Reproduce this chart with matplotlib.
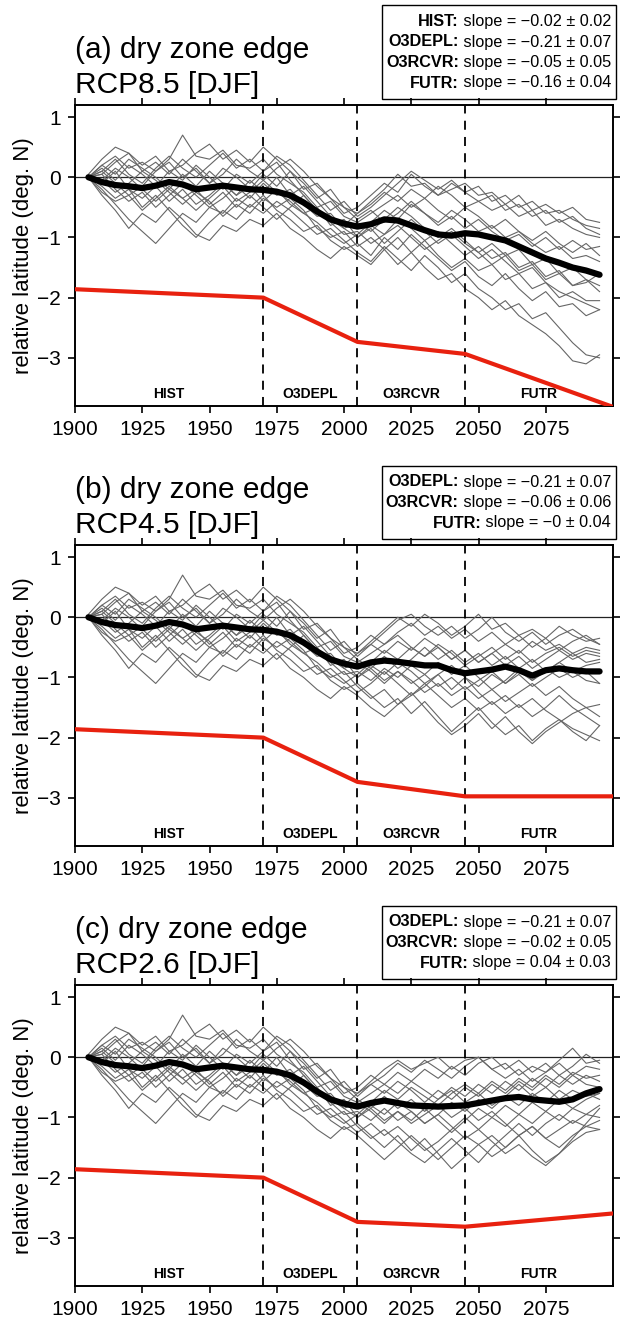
import numpy as np
import matplotlib
matplotlib.use("Agg")
import matplotlib.pyplot as plt
from matplotlib.patches import Rectangle

plt.rcParams['font.family'] = ['Liberation Sans', 'DejaVu Sans']

# ---- data (5-yr sampling) ----
years_hist = list(range(1905, 2006, 5))
years_fut = list(range(2010, 2096, 5))

hist_members = [
    [0.0, 0.2, 0.35, 0.15, 0.25, 0.1, 0.3, 0.7, 0.35, 0.3, 0.45, 0.2, 0.15, 0.3, 0.05, -0.1, -0.25, -0.5, -0.4, -0.65, -0.75],
    [0.05, 0.3, 0.5, 0.4, 0.2, 0.35, 0.1, 0.2, 0.4, 0.55, 0.3, 0.45, 0.25, 0.5, 0.3, 0.1, -0.2, -0.1, -0.35, -0.5, -0.6],
    [0.0, -0.2, -0.45, -0.7, -0.9, -1.1, -0.85, -0.6, -0.75, -0.5, -0.6, -0.35, -0.5, -0.3, -0.55, -0.7, -0.9, -0.8, -1.05, -1.2, -1.1],
    [0.0, -0.3, -0.55, -0.85, -0.6, -0.75, -0.5, -0.7, -0.95, -1.05, -0.8, -0.9, -0.7, -0.8, -0.6, -0.85, -1.0, -1.2, -1.35, -1.15, -1.3],
    [0.0, 0.15, -0.05, 0.2, 0.05, -0.15, 0.1, -0.05, 0.2, 0.0, -0.2, 0.05, -0.1, 0.1, 0.25, -0.05, -0.3, -0.55, -0.7, -0.85, -1.0],
    [0.0, -0.1, 0.1, -0.2, -0.35, -0.15, -0.4, -0.2, -0.45, -0.3, -0.1, -0.3, -0.15, -0.4, -0.2, -0.45, -0.6, -0.75, -0.95, -1.1, -0.95],
    [0.0, 0.1, 0.3, 0.05, -0.1, 0.15, 0.35, 0.15, 0.0, 0.2, 0.4, 0.15, 0.3, 0.1, 0.35, 0.2, -0.05, -0.3, -0.55, -0.4, -0.65],
    [0.0, -0.15, -0.35, -0.2, -0.5, -0.3, -0.55, -0.8, -1.0, -0.75, -0.55, -0.7, -0.45, -0.6, -0.4, -0.55, -0.75, -0.95, -0.85, -1.05, -1.25],
    [0.0, 0.05, -0.2, -0.4, -0.25, -0.5, -0.3, -0.1, -0.3, -0.5, -0.35, -0.15, -0.35, -0.1, -0.3, -0.2, -0.45, -0.65, -0.6, -0.85, -0.75],
    [0.0, 0.2, 0.05, 0.3, 0.15, 0.0, -0.2, 0.05, -0.15, 0.1, -0.1, -0.3, -0.05, -0.25, 0.0, -0.3, -0.15, -0.4, -0.65, -0.8, -0.6],
    [0.0, -0.05, -0.25, -0.1, 0.1, -0.05, -0.25, -0.45, -0.25, -0.4, -0.65, -0.45, -0.6, -0.35, -0.5, -0.35, -0.55, -0.85, -1.0, -0.9, -1.15],
    [0.0, 0.1, -0.1, -0.3, -0.15, 0.1, 0.25, 0.0, 0.15, -0.1, 0.05, 0.3, 0.1, -0.05, 0.15, 0.3, 0.1, -0.15, -0.35, -0.6, -0.5],
    [0.0, -0.25, -0.4, -0.3, -0.55, -0.35, -0.15, -0.35, -0.2, -0.45, -0.25, -0.5, -0.3, -0.5, -0.7, -0.5, -0.3, -0.55, -0.75, -0.95, -0.9],
    [0.0, 0.05, 0.25, 0.4, 0.1, 0.25, 0.05, 0.3, 0.1, -0.1, 0.15, 0.0, -0.2, 0.05, -0.15, 0.1, -0.1, -0.35, -0.2, -0.5, -0.7],
    [0.0, -0.05, 0.15, 0.0, -0.2, -0.4, -0.2, -0.35, -0.55, -0.35, -0.15, -0.4, -0.25, -0.05, -0.25, -0.4, -0.6, -0.5, -0.8, -0.7, -1.0],
]

rcp85_members = [
    [-0.6, -0.45, -0.3, -0.5, -0.35, -0.55, -0.7, -0.5, -0.65, -0.85, -0.7, -0.9, -1.05, -0.9, -1.1, -1.25, -1.1, -1.3],
    [-0.4, -0.2, 0.05, -0.15, -0.1, -0.3, -0.2, -0.1, -0.3, -0.25, -0.45, -0.3, -0.55, -0.45, -0.6, -0.5, -0.7, -0.75],
    [-1.3, -1.0, -1.2, -0.95, -1.15, -1.35, -1.55, -1.4, -1.65, -1.8, -1.6, -1.85, -2.05, -1.9, -2.15, -2.1, -2.3, -2.2],
    [-1.45, -1.2, -1.0, -1.25, -1.5, -1.7, -1.6, -1.85, -2.0, -2.2, -2.05, -2.3, -2.45, -2.6, -2.8, -3.05, -3.1, -2.95],
    [-0.8, -0.95, -0.7, -0.85, -1.05, -0.9, -1.1, -1.3, -1.15, -1.35, -1.25, -1.5, -1.4, -1.65, -1.55, -1.8, -1.7, -1.9],
    [-0.75, -0.55, -0.7, -0.45, -0.6, -0.8, -0.65, -0.85, -0.7, -0.9, -1.05, -0.95, -1.15, -1.0, -1.2, -1.05, -1.2, -1.15],
    [-0.5, -0.3, -0.1, 0.1, -0.05, -0.2, -0.05, -0.25, -0.15, -0.4, -0.3, -0.5, -0.4, -0.6, -0.55, -0.7, -0.8, -0.85],
    [-1.4, -1.15, -1.35, -1.55, -1.3, -1.5, -1.75, -1.6, -1.85, -2.0, -2.2, -2.1, -2.35, -2.25, -2.5, -2.75, -2.95, -3.0],
    [-0.9, -0.7, -0.5, -0.65, -0.85, -1.0, -0.85, -1.05, -1.25, -1.1, -1.3, -1.2, -1.45, -1.35, -1.6, -1.5, -1.7, -1.8],
    [-0.45, -0.25, -0.4, -0.2, -0.35, -0.15, -0.3, -0.5, -0.4, -0.55, -0.45, -0.65, -0.55, -0.8, -0.7, -0.85, -0.95, -1.0],
    [-1.0, -1.2, -1.45, -1.25, -1.05, -1.3, -1.5, -1.35, -1.55, -1.45, -1.7, -1.6, -1.85, -1.75, -2.0, -1.9, -2.05, -2.05],
    [-0.3, -0.1, -0.25, 0.05, -0.15, -0.3, -0.1, -0.25, -0.4, -0.3, -0.55, -0.45, -0.65, -0.55, -0.75, -0.65, -0.85, -0.95],
    [-1.1, -0.95, -0.8, -1.0, -1.2, -1.05, -0.9, -1.1, -1.25, -1.45, -1.3, -1.55, -1.45, -1.7, -1.6, -1.8, -1.75, -1.6],
    [-0.55, -0.75, -0.6, -0.4, -0.6, -0.75, -0.55, -0.7, -0.9, -0.8, -1.0, -0.9, -1.1, -1.25, -1.15, -1.35, -1.3, -1.4],
    [-0.85, -1.1, -0.9, -0.7, -0.9, -1.1, -0.95, -1.15, -1.35, -1.2, -1.4, -1.6, -1.5, -1.75, -1.9, -2.0, -2.1, -2.2],
]

rcp45_members = [
    [-0.6, -0.45, -0.3, -0.5, -0.65, -0.5, -0.7, -0.55, -0.75, -0.6, -0.45, -0.6, -0.4, -0.55, -0.45, -0.6, -0.5, -0.55],
    [-0.4, -0.2, 0.0, -0.15, 0.05, -0.1, -0.3, -0.15, 0.05, -0.2, -0.1, -0.3, -0.2, -0.35, -0.15, -0.3, -0.4, -0.35],
    [-1.3, -1.5, -1.35, -1.6, -1.4, -1.65, -1.9, -1.7, -1.5, -1.75, -1.95, -1.8, -2.05, -1.85, -1.7, -1.9, -2.05, -1.8],
    [-1.5, -1.65, -1.45, -1.25, -1.5, -1.75, -1.95, -1.8, -1.6, -1.85, -1.65, -1.9, -2.1, -1.9, -1.75, -1.6, -1.5, -1.45],
    [-0.8, -0.95, -0.75, -0.9, -1.1, -0.95, -0.8, -1.0, -1.15, -0.95, -1.1, -0.9, -1.05, -0.85, -1.0, -0.9, -1.05, -1.1],
    [-0.75, -0.55, -0.7, -0.5, -0.65, -0.45, -0.6, -0.8, -0.65, -0.5, -0.7, -0.55, -0.75, -0.6, -0.5, -0.65, -0.55, -0.6],
    [-0.45, -0.25, -0.05, 0.05, -0.15, -0.3, -0.15, -0.35, -0.2, 0.0, -0.25, -0.4, -0.25, -0.45, -0.3, -0.2, -0.35, -0.45],
    [-1.1, -0.9, -1.1, -1.3, -1.15, -0.95, -1.2, -1.0, -1.25, -1.45, -1.3, -1.5, -1.35, -1.55, -1.7, -1.85, -1.95, -2.05],
    [-0.9, -1.1, -0.9, -1.05, -1.25, -1.1, -1.3, -1.15, -1.35, -1.2, -1.4, -1.25, -1.1, -1.3, -1.15, -1.35, -1.5, -1.65],
    [-0.45, -0.6, -0.4, -0.55, -0.35, -0.5, -0.7, -0.55, -0.75, -0.6, -0.8, -0.65, -0.85, -0.7, -0.55, -0.7, -0.6, -0.65],
    [-1.35, -1.2, -1.45, -1.3, -1.1, -1.3, -1.5, -1.35, -1.55, -1.4, -1.6, -1.45, -1.65, -1.5, -1.3, -1.5, -1.65, -1.8],
    [-0.3, -0.45, -0.25, -0.1, -0.3, -0.15, -0.35, -0.2, -0.4, -0.25, -0.45, -0.3, -0.5, -0.35, -0.55, -0.4, -0.3, -0.45],
    [-1.05, -0.85, -1.0, -0.8, -0.95, -1.15, -1.0, -1.2, -1.05, -0.9, -1.1, -0.95, -1.15, -1.0, -0.85, -1.0, -0.9, -1.1],
    [-0.85, -0.65, -0.85, -0.7, -0.5, -0.7, -0.55, -0.75, -0.6, -0.8, -0.65, -0.85, -0.7, -0.9, -0.75, -0.6, -0.75, -0.7],
    [-0.85, -1.05, -0.9, -1.1, -0.95, -0.75, -0.95, -0.8, -1.0, -1.2, -1.05, -0.85, -1.05, -0.9, -0.75, -0.9, -0.8, -0.75],
]

rcp26_members = [
    [-0.6, -0.45, -0.6, -0.4, -0.55, -0.7, -0.5, -0.65, -0.45, -0.6, -0.4, -0.55, -0.35, -0.5, -0.3, -0.45, -0.3, -0.4],
    [-0.4, -0.2, -0.05, -0.2, -0.1, 0.0, -0.2, -0.05, 0.0, -0.2, -0.1, -0.3, -0.15, -0.25, -0.05, 0.15, -0.1, -0.05],
    [-1.3, -1.5, -1.3, -1.55, -1.35, -1.6, -1.85, -1.65, -1.45, -1.3, -1.5, -1.3, -1.55, -1.75, -1.6, -1.4, -1.25, -1.2],
    [-1.5, -1.7, -1.5, -1.3, -1.5, -1.7, -1.5, -1.3, -1.45, -1.65, -1.5, -1.3, -1.15, -1.35, -1.2, -1.05, -1.15, -1.05],
    [-0.8, -0.95, -0.75, -0.9, -1.1, -0.95, -0.75, -0.9, -0.7, -0.85, -0.65, -0.8, -0.6, -0.75, -0.55, -0.7, -0.6, -0.7],
    [-0.75, -0.55, -0.7, -0.5, -0.65, -0.8, -0.6, -0.45, -0.6, -0.4, -0.55, -0.35, -0.5, -0.3, -0.45, -0.25, -0.35, -0.3],
    [-0.45, -0.3, -0.1, -0.25, -0.05, -0.2, -0.35, -0.15, 0.0, -0.2, -0.35, -0.2, -0.4, -0.25, -0.1, -0.3, -0.15, -0.2],
    [-1.1, -1.3, -1.15, -1.35, -1.55, -1.4, -1.2, -1.0, -1.2, -1.4, -1.6, -1.45, -1.65, -1.8, -1.6, -1.35, -1.1, -0.85],
    [-0.9, -1.1, -0.9, -1.05, -0.85, -1.05, -1.25, -1.05, -0.85, -1.0, -0.8, -0.95, -0.75, -0.9, -0.7, -0.85, -0.7, -0.6],
    [-0.45, -0.6, -0.4, -0.55, -0.75, -0.55, -0.7, -0.5, -0.65, -0.45, -0.6, -0.4, -0.55, -0.35, -0.5, -0.3, -0.45, -0.5],
    [-1.35, -1.2, -1.4, -1.6, -1.75, -1.55, -1.35, -1.55, -1.75, -1.5, -1.3, -1.1, -1.3, -1.1, -0.95, -1.1, -0.95, -1.0],
    [-0.3, -0.45, -0.25, -0.4, -0.2, -0.35, -0.15, -0.3, -0.1, 0.0, -0.2, -0.05, -0.25, -0.1, -0.3, -0.15, 0.05, -0.1],
    [-1.05, -0.85, -1.05, -0.9, -1.1, -0.95, -1.15, -1.35, -1.2, -1.0, -1.15, -0.95, -1.1, -0.9, -1.05, -0.85, -0.95, -0.8],
    [-0.85, -0.65, -0.85, -0.7, -0.9, -0.7, -0.55, -0.75, -0.6, -0.8, -0.65, -0.45, -0.65, -0.5, -0.7, -0.55, -0.65, -0.6],
    [-0.85, -1.05, -0.9, -1.1, -0.95, -0.8, -1.0, -0.85, -1.05, -0.9, -1.1, -1.3, -1.15, -1.35, -1.5, -1.3, -1.15, -1.2],
]

mean_hist = [0.0, -0.08, -0.13, -0.15, -0.18, -0.14, -0.08, -0.12, -0.2, -0.17, -0.14,
             -0.17, -0.2, -0.21, -0.24, -0.3, -0.42, -0.57, -0.7, -0.77, -0.82]
mean_rcp85 = [-0.78, -0.7, -0.72, -0.8, -0.88, -0.95, -0.97, -0.93, -0.95, -1.0, -1.05,
              -1.15, -1.25, -1.35, -1.42, -1.5, -1.55, -1.62]
mean_rcp45 = [-0.75, -0.72, -0.74, -0.77, -0.8, -0.8, -0.88, -0.93, -0.9, -0.87, -0.82,
              -0.88, -0.97, -0.88, -0.85, -0.88, -0.9, -0.9]
mean_rcp26 = [-0.76, -0.72, -0.76, -0.8, -0.81, -0.82, -0.81, -0.8, -0.76, -0.72, -0.68,
              -0.66, -0.7, -0.72, -0.74, -0.7, -0.6, -0.53]

trend_years = [1900, 1970, 2005, 2045, 2100]
trend_rcp85 = [-1.86, -2.0, -2.735, -2.935, -3.815]
trend_rcp45 = [-1.86, -2.0, -2.735, -2.975, -2.975]
trend_rcp26 = [-1.86, -2.0, -2.735, -2.815, -2.595]

period_bounds = [1970, 2005, 2045]
period_names = ['HIST', 'O3DEPL', 'O3RCVR', 'FUTR']
period_centers = [1935, 1987.5, 2025, 2072.5]

panel_titles = [('(a) dry zone edge', 'RCP8.5 [DJF]'),
                ('(b) dry zone edge', 'RCP4.5 [DJF]'),
                ('(c) dry zone edge', 'RCP2.6 [DJF]')]
slopes_rcp85 = [('HIST:', '\u22120.02 \u00b1 0.02'), ('O3DEPL:', '\u22120.21 \u00b1 0.07'),
                ('O3RCVR:', '\u22120.05 \u00b1 0.05'), ('FUTR:', '\u22120.16 \u00b1 0.04')]
slopes_rcp45 = [('O3DEPL:', '\u22120.21 \u00b1 0.07'), ('O3RCVR:', '\u22120.06 \u00b1 0.06'),
                ('FUTR:', '\u22120 \u00b1 0.04')]
slopes_rcp26 = [('O3DEPL:', '\u22120.21 \u00b1 0.07'), ('O3RCVR:', '\u22120.02 \u00b1 0.05'),
                ('FUTR:', '0.04 \u00b1 0.03')]

# ---- figure ----
W, H = 622, 1322
fig = plt.figure(figsize=(W / 100, H / 100), dpi=100)
renderer = fig.canvas.get_renderer()

panels = [
    (rcp85_members, mean_rcp85, trend_rcp85, slopes_rcp85),
    (rcp45_members, mean_rcp45, trend_rcp45, slopes_rcp45),
    (rcp26_members, mean_rcp26, trend_rcp26, slopes_rcp26),
]

for i, (fut, mfut, trend, slopes) in enumerate(panels):
    off = 440 * i
    ax_top, ax_bot = 105 + off, 406 + off
    ax = fig.add_axes([75 / W, 1 - ax_bot / H, 538 / W, (ax_bot - ax_top) / H])

    yrs = years_hist + years_fut
    for h, f in zip(hist_members, fut):
        ax.plot(yrs, h + f, color='#666666', lw=0.8, zorder=2)
    ax.plot(yrs, mean_hist + mfut, color='black', lw=4.5, zorder=4,
            solid_capstyle='round', solid_joinstyle='round')
    ax.plot(trend_years, trend, color='#e8210f', lw=3, zorder=4)

    ax.axhline(0, color='#222222', lw=0.9, zorder=1)
    for b in period_bounds:
        ax.axvline(b, color='black', lw=1.3, ls=(0, (5, 4)), zorder=3)
    for name, xc in zip(period_names, period_centers):
        ax.text(xc, -3.6, name, ha='center', va='center', fontsize=10,
                fontweight='bold')

    ax.set_xlim(1900, 2100)
    ax.set_ylim(-3.8, 1.2)
    ax.set_xticks([1900, 1925, 1950, 1975, 2000, 2025, 2050, 2075])
    ax.set_yticks([-3, -2, -1, 0, 1])
    ax.tick_params(direction='out', length=5, width=1.2, labelsize=15,
                   top=True, right=True, labeltop=False, labelright=False, pad=5)
    for s in ax.spines.values():
        s.set_linewidth(1.4)
    ax.set_ylabel('relative latitude (deg. N)', fontsize=16, labelpad=2)

    fig.text(75 / W, 1 - (50 + off) / H, panel_titles[i][0],
             ha='left', va='center', fontsize=21.5)
    fig.text(75 / W, 1 - (85 + off) / H, panel_titles[i][1],
             ha='left', va='center', fontsize=21.5)

    # slope legend box
    n = len(slopes)
    box_bot = ax_top - 6
    box_top = box_bot - (12 + 20.5 * n)
    fig.patches.append(Rectangle((382 / W, 1 - box_bot / H), 234 / W,
                                 (box_bot - box_top) / H, transform=fig.transFigure,
                                 fill=False, ec='black', lw=1.0))
    for j, (lab, val) in enumerate(slopes):
        yc = box_top + 16.5 + 20.5 * j
        t = fig.text(611 / W, 1 - yc / H, ' slope = ' + val,
                     ha='right', va='center', fontsize=11.7)
        x0 = t.get_window_extent(renderer).x0
        fig.text(x0 / W, 1 - yc / H, lab, ha='right', va='center',
                 fontsize=11.7, fontweight='bold')

fig.savefig('out.png', dpi=100)
